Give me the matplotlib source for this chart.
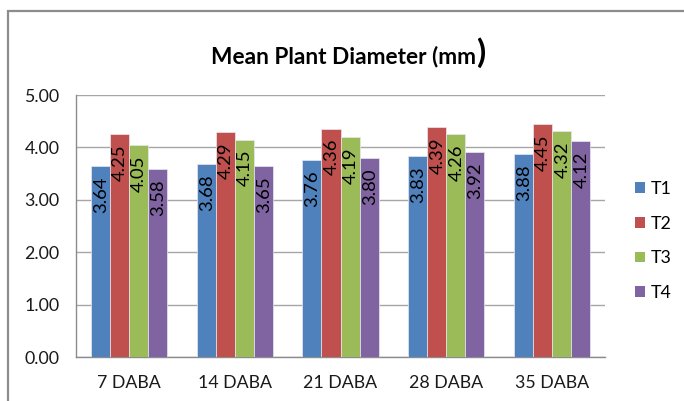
import matplotlib
matplotlib.use("Agg")
import matplotlib.pyplot as plt
from matplotlib.patches import Rectangle, Patch
import numpy as np

categories = ["7 DABA", "14 DABA", "21 DABA", "28 DABA", "35 DABA"]
series_names = ["T1", "T2", "T3", "T4"]
t1 = [3.64, 3.68, 3.76, 3.83, 3.88]
t2 = [4.25, 4.29, 4.36, 4.39, 4.45]
t3 = [4.05, 4.15, 4.19, 4.26, 4.32]
t4 = [3.58, 3.65, 3.80, 3.92, 4.12]
y_ticks = [0, 1, 2, 3, 4, 5]

colors = ["#4F81BD", "#C0504D", "#9BBB59", "#8064A2"]
series = [t1, t2, t3, t4]

plt.rcParams["font.family"] = ["Lato", "DejaVu Sans"]

W, H = 684, 401
fig = plt.figure(figsize=(W / 100, H / 100), dpi=100)
fig.patch.set_facecolor("white")

# chart frame
fig.patches.append(Rectangle((8 / W, -0.1), 1.2, 0.1 + (H - 11) / H,
                             transform=fig.transFigure, fill=False,
                             edgecolor="#8c8c8c", linewidth=1.6))

ax = fig.add_axes([76 / W, (H - 357) / H, (605 - 76) / W, (357 - 95) / H])

x = np.arange(len(categories))
bw = 0.18
offsets = (np.arange(4) - 1.5) * bw
for vals, off, c, name in zip(series, offsets, colors, series_names):
    ax.bar(x + off, vals, bw, color=c, edgecolor="#e8e8f0",
           linewidth=0.5, label=name, zorder=3)
    for xi, v in zip(x + off, vals):
        ax.annotate(f"{v:.2f}", (xi, v), xytext=(0.5, -7.5),
                    textcoords="offset points", rotation=90,
                    ha="center", va="top", fontsize=13.3, color="black",
                    zorder=4)

ax.set_xlim(-0.5, len(categories) - 0.5)
ax.set_ylim(0, 5)
ax.set_yticks(y_ticks)
ax.set_yticklabels([f"{v:.2f}" for v in y_ticks])
ax.set_xticks(x)
ax.set_xticklabels(categories)
ax.tick_params(axis="both", length=0, labelsize=12.8, colors="#1a1a1a")
ax.tick_params(axis="y", pad=12)
ax.tick_params(axis="x", pad=13)
ax.grid(axis="y", color="#a6a6a6", linewidth=1.0, zorder=0)
for s in ["top", "right"]:
    ax.spines[s].set_visible(False)
for s in ["left", "bottom"]:
    ax.spines[s].set_color("#8c8c8c")
    ax.spines[s].set_linewidth(1.0)

# title with an oversized closing parenthesis
ty = (H - 63) / H
fig.text(476 / W, ty, "Mean Plant Diameter (mm", fontsize=16.3,
         fontweight="bold", ha="right", va="baseline", color="black")
fig.text(476 / W, ty, ")", fontsize=24, fontweight="bold",
         ha="left", va="baseline", color="black")

handles = [Patch(facecolor=c, edgecolor="none") for c in colors]
fig.legend(handles, series_names, loc="center left",
           bbox_to_anchor=(635 / W, (H - 241) / H), frameon=False,
           fontsize=12.8, labelspacing=1.05, handlelength=0.55,
           handleheight=0.55, handletextpad=0.35, borderpad=0,
           borderaxespad=0)

fig.savefig("out.png", dpi=100)
